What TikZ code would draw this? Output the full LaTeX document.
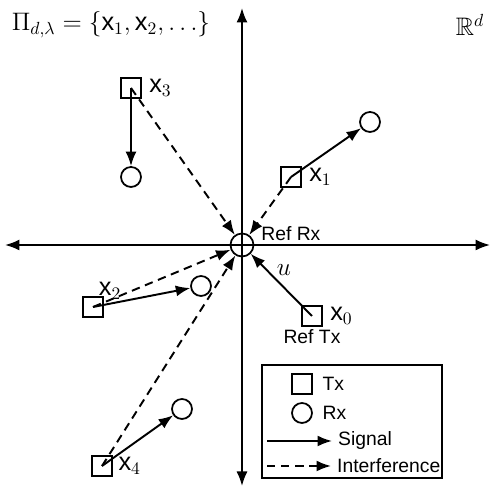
\documentclass[tikz,border=0pt]{standalone}
\usepackage{amssymb}
\usepackage{fontspec}
\setsansfont{Liberation Sans}
\usetikzlibrary{arrows.meta,positioning}
\newcommand{\ptx}[1]{\textsf{x}_{#1}}
\begin{document}
\begin{tikzpicture}[
    font=\sffamily\fontsize{11}{13}\selectfont,
    >={Latex[length=2.9mm,width=2.2mm]},
    txbox/.style={
        draw=black,
        line width=1pt,
        minimum size=0.4cm,
        inner sep=0pt
    },
    rxcirc/.style={
        draw=black,
        circle,
        line width=1pt,
        minimum size=0.4cm,
        inner sep=0pt
    },
    ptlabel/.style={font=\Large, inner sep=1pt},
    signal/.style={->, line width=1.1pt},
    interf/.style={->, line width=1.1pt, dash pattern=on 4.8pt off 3.2pt}
]
\useasboundingbox (-4.84,-4.98) rectangle (5.12,4.9);

% axes
\draw[<->, line width=1pt] (-4.74,0) -- (4.96,0);
\draw[<->, line width=1pt] (0,-4.82) -- (0,4.74);

\node[font=\Large] (title) at (-2.62,4.4) {$\Pi_{d,\lambda}=\{\ptx{1},\ptx{2},\ldots\}$};
\node[font=\Large] (space) at (4.56,4.4) {$\mathbb{R}^d$};

% reference link
\node[rxcirc, minimum size=0.46cm] (refrx) at (0,0) {};
\node[anchor=base west, inner sep=0pt] (lrefrx) at (0.38,0.08) {Ref Rx};
\node[txbox] (tx0) at (1.4,-1.42) {};
\node[ptlabel, right=3pt of tx0] (lx0) {$\ptx{0}$};
\node[below=-2pt of tx0] (lreftx) {Ref Tx};

% other links
\node[txbox] (tx1) at (0.98,1.36) {};
\node[ptlabel, right=3pt of tx1] (lx1) {$\ptx{1}$};
\node[rxcirc] (rx1) at (2.56,2.46) {};

\node[txbox] (tx2) at (-2.98,-1.24) {};
\node[ptlabel, above right=-3pt and -4pt of tx2] (lx2) {$\ptx{2}$};
\node[rxcirc] (rx2) at (-0.82,-0.82) {};

\node[txbox] (tx3) at (-2.22,3.14) {};
\node[ptlabel, right=3pt of tx3] (lx3) {$\ptx{3}$};
\node[rxcirc] (rx3) at (-2.22,1.36) {};

\node[txbox] (tx4) at (-2.8,-4.42) {};
\node[ptlabel, right=2pt of tx4] (lx4) {$\ptx{4}$};
\node[rxcirc] (rx4) at (-1.2,-3.28) {};

\draw[signal] (tx0.center) -- (refrx);
\node[font=\Large] (ulabel) at (0.84,-0.5) {$u$};
\draw[signal] (tx1.center) -- (rx1);
\draw[signal] (tx2.center) -- (rx2);
\draw[signal] (tx3.center) -- (rx3);
\draw[signal] (tx4.center) -- (rx4);

\draw[interf] (tx1.center) -- (refrx);
\draw[interf] (tx2.center) -- (refrx);
\draw[interf] (tx3.center) -- (refrx);
\draw[interf] (tx4.center) -- (refrx);

% legend
\node[draw=black, line width=0.6pt, minimum width=3.6cm, minimum height=2.26cm] (legend) at (2.2,-3.53) {};
\node[txbox] (ltx) at (1.2,-2.78) {};
\node[right=2pt of ltx] (lltx) {Tx};
\node[rxcirc] (lrx) at (1.2,-3.36) {};
\node[right=2pt of lrx] (llrx) {Rx};
\coordinate (sigA) at (0.5,-3.92);
\coordinate (sigB) at (1.8,-3.92);
\draw[signal] (sigA) -- (sigB);
\node[right=0pt of sigB] (lsig) {Signal};
\coordinate (intA) at (0.5,-4.42);
\coordinate (intB) at (1.78,-4.42);
\draw[interf] (intA) -- (intB);
\node[right=0pt of intB] (lint) {Interference};

\end{tikzpicture}
\end{document}
